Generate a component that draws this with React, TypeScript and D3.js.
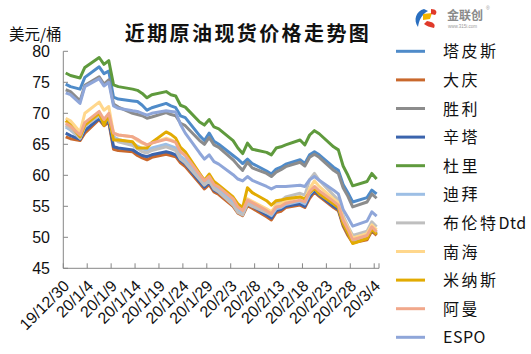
import * as d3 from 'd3'

const dates = [
  '2019-12-30', '2019-12-31', '2020-01-02', '2020-01-03',
  '2020-01-06', '2020-01-07', '2020-01-08', '2020-01-09', '2020-01-10',
  '2020-01-13', '2020-01-14', '2020-01-15', '2020-01-16', '2020-01-17',
  '2020-01-20', '2020-01-21', '2020-01-22', '2020-01-23', '2020-01-24',
  '2020-01-27', '2020-01-28', '2020-01-29', '2020-01-30', '2020-01-31',
  '2020-02-03', '2020-02-04', '2020-02-05', '2020-02-06', '2020-02-07',
  '2020-02-10', '2020-02-11', '2020-02-12', '2020-02-13', '2020-02-14',
  '2020-02-17', '2020-02-18', '2020-02-19', '2020-02-20', '2020-02-21',
  '2020-02-24', '2020-02-25', '2020-02-26', '2020-02-27', '2020-02-28',
  '2020-03-02', '2020-03-03', '2020-03-04',
]

const tapis = [74.7, 74.3, 73.9, 75.8, 77.5, 76.4, 76.8, 72.6, 72.3, 72.0, 71.9, 71.3, 70.5, 70.9, 71.6, 71.2, 70.9, 69.6, 69.3, 66.4, 65.6, 66.8, 65.5, 65.0, 63.2, 62.6, 61.9, 62.6, 61.9, 60.7, 60.2, 61.0, 61.3, 61.8, 62.5, 61.9, 63.3, 63.8, 63.3, 61.3, 60.8, 58.5, 57.2, 55.7, 56.4, 57.6, 57.0]
const daqing = [66.2, 65.9, 65.6, 66.8, 69.0, 68.0, 68.6, 64.2, 64.0, 63.8, 63.2, 62.8, 62.5, 62.9, 63.4, 63.2, 63.0, 62.0, 61.4, 58.7, 57.8, 58.5, 57.3, 56.9, 55.0, 53.9, 53.5, 55.1, 54.7, 53.3, 52.8, 54.0, 54.2, 54.8, 55.2, 54.8, 56.3, 57.3, 56.6, 54.8, 54.3, 51.8, 50.3, 49.1, 49.6, 51.0, 50.3]
const shengli = [73.8, 73.5, 72.0, 74.5, 75.9, 74.7, 75.4, 71.5, 71.0, 70.0, 69.8, 69.6, 69.2, 69.4, 70.1, 69.8, 69.6, 68.4, 68.0, 65.6, 65.0, 66.1, 64.9, 64.5, 62.5, 61.6, 60.8, 62.1, 61.2, 60.3, 59.8, 60.5, 60.9, 61.4, 62.1, 61.5, 62.9, 63.4, 62.9, 60.8, 60.3, 58.0, 56.6, 54.9, 55.7, 57.0, 56.3]
const sinta = [66.8, 66.4, 65.8, 67.2, 69.2, 68.2, 68.9, 64.6, 64.4, 64.1, 63.6, 63.2, 63.0, 63.3, 63.8, 63.6, 63.3, 62.4, 61.8, 59.0, 58.1, 58.8, 57.6, 57.2, 55.4, 54.2, 53.8, 55.4, 55.0, 53.6, 53.1, 54.3, 54.5, 55.0, 55.4, 55.0, 56.6, 57.5, 56.8, 55.0, 54.5, 52.1, 50.6, 49.3, 49.9, 51.2, 50.5]
const duri = [76.5, 76.1, 75.7, 77.4, 79.0, 77.9, 78.5, 74.6, 74.3, 73.9, 73.7, 73.2, 72.5, 73.0, 73.5, 73.0, 72.8, 71.3, 71.0, 68.6, 68.1, 69.0, 67.8, 67.5, 65.6, 64.4, 63.5, 65.2, 64.2, 63.7, 63.3, 64.4, 64.6, 64.9, 65.7, 64.9, 66.5, 67.2, 66.7, 64.6, 64.1, 61.5, 60.0, 58.3, 59.0, 60.3, 59.4]
const dubai = [67.8, 67.3, 66.0, 67.9, 69.6, 68.5, 69.3, 66.2, 65.8, 65.2, 64.7, 64.3, 64.0, 64.4, 65.0, 64.7, 64.4, 63.1, 62.5, 59.7, 58.7, 59.4, 58.1, 57.7, 55.7, 54.5, 54.0, 55.7, 55.2, 54.0, 53.5, 54.6, 54.8, 55.3, 55.8, 55.4, 57.0, 57.9, 57.1, 55.4, 54.9, 52.5, 51.0, 49.4, 50.1, 51.5, 50.7]
const brent = [68.1, 67.5, 66.0, 68.0, 69.7, 68.5, 69.4, 66.0, 65.4, 64.8, 64.3, 63.8, 63.6, 64.0, 64.6, 64.3, 64.0, 62.6, 62.0, 59.3, 58.4, 59.1, 57.8, 57.3, 55.2, 54.0, 53.6, 55.4, 55.0, 54.0, 53.7, 55.4, 55.9, 56.5, 57.1, 56.8, 59.3, 60.3, 59.2, 56.8, 56.0, 53.5, 51.8, 50.3, 51.0, 52.5, 51.7]
const nanhai = [69.2, 68.8, 67.0, 70.0, 71.8, 70.5, 71.1, 66.8, 66.5, 66.2, 65.6, 65.2, 64.9, 65.2, 66.0, 65.7, 65.4, 63.9, 63.3, 60.2, 59.2, 59.9, 58.7, 58.3, 56.4, 55.1, 54.5, 56.2, 55.8, 54.6, 54.1, 55.2, 55.4, 55.9, 56.5, 56.1, 57.9, 59.1, 58.2, 56.2, 55.6, 53.1, 51.6, 49.9, 50.6, 52.0, 51.2]
const minas = [68.8, 68.1, 66.2, 68.1, 70.0, 68.1, 69.7, 65.7, 65.7, 65.4, 64.4, 64.4, 64.4, 65.3, 67.0, 66.6, 66.0, 64.5, 63.8, 60.3, 59.2, 60.2, 59.0, 58.4, 56.5, 55.4, 54.8, 58.0, 57.2, 55.9, 55.2, 55.9, 56.0, 56.2, 56.5, 56.2, 57.2, 57.9, 57.0, 55.4, 54.8, 52.2, 50.7, 49.0, 49.8, 51.3, 50.5]
const oman = [68.4, 67.9, 66.5, 68.5, 70.3, 69.0, 70.0, 66.8, 66.5, 66.2, 65.8, 65.3, 64.9, 65.2, 65.8, 65.6, 65.3, 63.8, 63.2, 60.1, 59.1, 59.8, 58.5, 58.1, 56.2, 54.9, 54.3, 56.0, 55.6, 54.3, 53.8, 54.9, 55.0, 55.5, 56.0, 55.7, 57.4, 58.2, 57.5, 55.8, 55.2, 52.8, 51.3, 49.6, 50.3, 51.7, 50.9]
const espo = [73.3, 73.0, 71.6, 74.3, 75.6, 74.4, 75.0, 71.2, 70.8, 70.4, 70.3, 70.0, 69.7, 70.0, 70.4, 70.3, 70.2, 68.2, 66.8, 63.6, 62.6, 63.3, 62.2, 61.8, 60.1, 59.4, 59.1, 59.8, 59.2, 58.2, 57.8, 58.2, 58.2, 58.2, 58.4, 58.2, 59.3, 59.8, 59.2, 57.6, 57.0, 54.5, 53.2, 51.8, 52.6, 54.1, 53.4]

const seriesNames = ['塔皮斯', '大庆', '胜利', '辛塔', '杜里', '迪拜', '布伦特Dtd', '南海', '米纳斯', '阿曼', 'ESPO']
const seriesValues = [tapis, daqing, shengli, sinta, duri, dubai, brent, nanhai, minas, oman, espo]
const seriesColors = ['#4f8bc9', '#c9682c', '#8c8c8c', '#3b64ad', '#5f9a3d', '#9dbfe5', '#bfbfbf', '#ffd78c', '#e2ab02', '#f1a88b', '#8fa6d9']

const xTickLabels = ['19/12/30', '20/1/4', '20/1/9', '20/1/14', '20/1/19', '20/1/24', '20/1/29', '20/2/3', '20/2/8', '20/2/13', '20/2/18', '20/2/23', '20/2/28', '20/3/4']
const yTicks = [45, 50, 55, 60, 65, 70, 75, 80]

const W = 531
const H = 354
const parse = d3.timeParse('%Y-%m-%d')
const start = parse('2019-12-30') as Date
const end = parse('2020-03-05') as Date

const x = d3.scaleTime().domain([start, end]).range([63.3, 379])
const y = d3.scaleLinear().domain([45, 80]).range([268.3, 51.3])

const axisColor = '#868686'
const cjk = '"Noto Sans CJK SC", "Noto Sans", sans-serif'
const latin = "'Liberation Sans', Arial, sans-serif"

// split a legend label into its CJK head and latin tail
function splitLabel(name: string) {
  const m = name.match(/^([^A-Za-z]*)([A-Za-z]*)$/)
  return m ? [m[1], m[2]] : [name, '']
}

export default function App() {
  const pts = dates.map(d => d3.timeHour.offset(parse(d) as Date, 12))
  const line = d3.line<number>()
    .x((_, i) => x(pts[i]))
    .y(v => y(v))

  const ticks = xTickLabels.map((_, i) => d3.timeDay.offset(start, i * 5))

  return (
    <svg width={W} height={H} style={{ position: 'absolute', left: 0, top: 0, background: '#fff' }}>
      {/* title */}
      <text x={248} y={41} textAnchor="middle" fontFamily={cjk} fontWeight={700} fontSize={20} letterSpacing={2.4} fill="#111">
        近期原油现货价格走势图
      </text>
      <text x={9} y={40} fontFamily={cjk} fontSize={15.5} fill="#111">美元/桶</text>

      {/* logo */}
      <g>
        <path d="M424,9 C416,11 413,20 418,27 C419,21 421,15 428,11 Z" fill="#2a6fc0" />
        <path d="M423,14 L432,13 L430,19 L423,20 Z" fill="#f0b400" />
        <path d="M427,21 C433,22 436,24 434,28 C430,27 426,26 424,24 Z" fill="#e03a2a" />
        <path d="M431,9 C436,9 438,12 435,15 L431,14 Z" fill="#e03a2a" />
        <text x={447} y={20} fontFamily={cjk} fontWeight={700} fontSize={12} fill="#8a8a8a">金联创</text>
        <text x={448} y={27.5} fontFamily={latin} fontSize={4.5} fill="#999">www.315i.com</text>
        <text x={486} y={10} fontFamily={latin} fontSize={5} fill="#999">®</text>
      </g>

      {/* y axis */}
      <line x1={63.3} x2={63.3} y1={y(80)} y2={y(45)} stroke={axisColor} strokeWidth={1} />
      {yTicks.map(t => (
        <g key={t}>
          <line x1={63.3} x2={68} y1={y(t)} y2={y(t)} stroke={axisColor} strokeWidth={1} />
          <text x={50} y={y(t) + 5.5} textAnchor="end" fontFamily={latin} fontSize={16} fill="#111">{t}</text>
        </g>
      ))}

      {/* x axis */}
      <line x1={63.3} x2={379} y1={y(45)} y2={y(45)} stroke={axisColor} strokeWidth={1} />
      {ticks.map((t, i) => (
        <g key={i}>
          <line x1={x(t)} x2={x(t)} y1={y(45)} y2={y(45) - 5} stroke={axisColor} strokeWidth={1} />
          <text
            transform={`translate(${x(t) + 7},${287}) rotate(-45)`}
            textAnchor="end"
            fontFamily={latin}
            fontSize={16}
            fill="#111"
          >
            {xTickLabels[i]}
          </text>
        </g>
      ))}
      <line x1={379} x2={379} y1={y(45)} y2={y(45) - 5} stroke={axisColor} strokeWidth={1} />

      {/* series */}
      {seriesValues.map((vals, i) => (
        <path key={seriesNames[i]} d={line(vals) ?? ''} fill="none" stroke={seriesColors[i]} strokeWidth={3} strokeLinejoin="round" />
      ))}

      {/* legend */}
      {seriesNames.map((name, i) => {
        const ly = 51.3 + i * 28.6
        const [head, tail] = splitLabel(name)
        return (
          <g key={name}>
            <line x1={396} x2={425} y1={ly} y2={ly} stroke={seriesColors[i]} strokeWidth={3} />
            <text x={443} y={ly + 6} fontFamily={cjk} fontSize={16} fill="#111">
              {head && <tspan letterSpacing={2.5}>{head}</tspan>}
              {tail && <tspan letterSpacing={0.5}>{tail}</tspan>}
            </text>
          </g>
        )
      })}
    </svg>
  )
}
